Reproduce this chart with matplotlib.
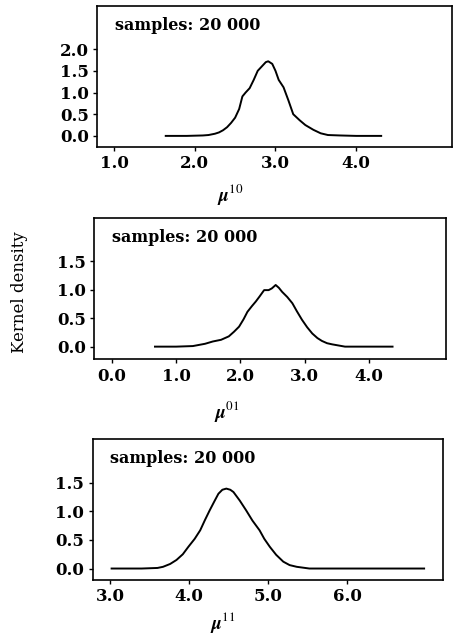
import matplotlib
matplotlib.use("Agg")
import matplotlib.pyplot as plt
from matplotlib.ticker import FormatStrFormatter

plt.rcParams['font.family'] = ['DejaVu Serif']
plt.rcParams['mathtext.fontset'] = 'stix'

# 읽어낸 커널 밀도 곡선 (μ10, μ01, μ11)
x10 = [1.64, 1.9, 2.1, 2.17, 2.25, 2.3, 2.35, 2.4, 2.45, 2.5, 2.55, 2.59, 2.63, 2.68, 2.73, 2.78, 2.84, 2.88, 2.91, 2.96, 3.0, 3.04, 3.1, 3.16, 3.22, 3.3, 3.37, 3.47, 3.56, 3.65, 3.8, 4.0, 4.31]
y10 = [0.0, 0.0, 0.01, 0.02, 0.05, 0.08, 0.13, 0.2, 0.3, 0.42, 0.62, 0.91, 1.0, 1.1, 1.29, 1.5, 1.62, 1.7, 1.72, 1.66, 1.5, 1.29, 1.12, 0.82, 0.5, 0.36, 0.25, 0.14, 0.06, 0.02, 0.01, 0.0, 0.0]

x01 = [0.67, 1.0, 1.26, 1.45, 1.57, 1.7, 1.82, 1.9, 1.98, 2.05, 2.11, 2.18, 2.24, 2.3, 2.37, 2.44, 2.49, 2.55, 2.6, 2.65, 2.73, 2.81, 2.88, 2.96, 3.04, 3.12, 3.2, 3.27, 3.35, 3.43, 3.63, 4.0, 4.37]
y01 = [0.0, 0.0, 0.01, 0.05, 0.09, 0.12, 0.18, 0.26, 0.35, 0.48, 0.61, 0.71, 0.79, 0.88, 0.99, 0.99, 1.02, 1.08, 1.03, 0.96, 0.87, 0.76, 0.62, 0.47, 0.34, 0.23, 0.15, 0.1, 0.06, 0.04, 0.0, 0.0, 0.0]

x11 = [3.02, 3.4, 3.6, 3.67, 3.76, 3.84, 3.92, 3.99, 4.07, 4.14, 4.2, 4.26, 4.32, 4.37, 4.42, 4.47, 4.52, 4.56, 4.64, 4.72, 4.8, 4.89, 4.95, 5.02, 5.1, 5.19, 5.27, 5.36, 5.52, 6.0, 6.97]
y11 = [0.0, 0.0, 0.01, 0.03, 0.08, 0.15, 0.25, 0.38, 0.52, 0.67, 0.85, 1.02, 1.18, 1.31, 1.38, 1.40, 1.38, 1.34, 1.19, 1.02, 0.84, 0.67, 0.52, 0.38, 0.24, 0.12, 0.06, 0.03, 0.0, 0.0, 0.0]

panels = [
    dict(x=x10, y=y10, label=r'$\boldsymbol{\mu}^{10}$', xticks=[1, 2, 3, 4], yticks=[0, 0.5, 1.0, 1.5, 2.0],
         xlim=(0.79, 5.19), ylim=(-0.25, 3.0), rect=[0.214, 0.770, 0.782, 0.221], lx=0.375, ly=-0.25),
    dict(x=x01, y=y01, label=r'$\boldsymbol{\mu}^{01}$', xticks=[0, 1, 2, 3, 4], yticks=[0, 0.5, 1.0, 1.5],
         xlim=(-0.28, 5.2), ylim=(-0.22, 2.25), rect=[0.207, 0.437, 0.775, 0.221], lx=0.378, ly=-0.28),
    dict(x=x11, y=y11, label=r'$\boldsymbol{\mu}^{11}$', xticks=[3, 4, 5, 6], yticks=[0, 0.5, 1.0, 1.5],
         xlim=(2.78, 7.21), ylim=(-0.2, 2.27), rect=[0.204, 0.091, 0.772, 0.221], lx=0.372, ly=-0.215),
]

fig = plt.figure(figsize=(4.54, 6.38), dpi=100)

for p in panels:
    ax = fig.add_axes(p['rect'])
    ax.plot(p['x'], p['y'], color='black', lw=1.4)
    ax.set_xlim(p['xlim'])
    ax.set_ylim(p['ylim'])
    ax.set_xticks(p['xticks'])
    ax.set_yticks(p['yticks'])
    ax.xaxis.set_major_formatter(FormatStrFormatter('%.1f'))
    ax.yaxis.set_major_formatter(FormatStrFormatter('%.1f'))
    ax.tick_params(length=3, width=1, labelsize=12, pad=3)
    for lab in ax.get_xticklabels() + ax.get_yticklabels():
        lab.set_fontweight('bold')
    for s in ax.spines.values():
        s.set_linewidth(1.2)
    ax.text(0.05, 0.86, 'samples: 20 000', transform=ax.transAxes, fontsize=11.5,
            fontweight='bold', va='center', ha='left')
    ax.set_xlabel(p['label'], fontsize=13.5, va='top')
    ax.xaxis.set_label_coords(p['lx'], p['ly'])

fig.text(20 / 454, 1 - 292 / 638, 'Kernel density', rotation=90, fontsize=12,
         ha='center', va='center')

fig.savefig('out.png', dpi=100)
